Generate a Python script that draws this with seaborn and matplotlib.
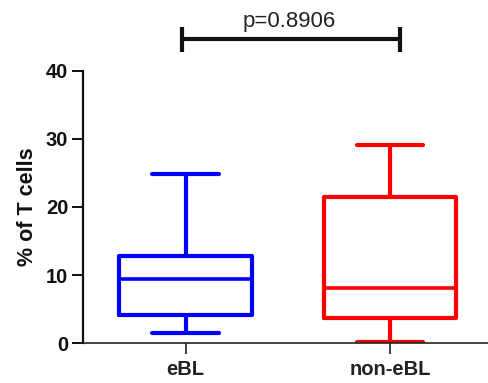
import matplotlib
matplotlib.use("Agg")
import matplotlib.pyplot as plt
import seaborn as sns
import pandas as pd

# Data (min, Q1, median, Q3, max)
groups = ["eBL", "non-eBL"]
ebl_values = [1.56, 4.15, 9.43, 12.85, 24.9]
non_ebl_values = [0.23, 3.67, 8.07, 21.5, 29.05]
colors = ["#0000FF", "#FF0000"]
y_ticks = [0, 10, 20, 30, 40]
p_text = "p=0.8906"
y_label = "% of T cells"

df = pd.DataFrame({
    "group": [groups[0]] * len(ebl_values) + [groups[1]] * len(non_ebl_values),
    "value": ebl_values + non_ebl_values,
})

sns.set_theme(style="ticks")
plt.rcParams["font.family"] = ["Liberation Sans", "DejaVu Sans"]

fig = plt.figure(figsize=(4.89, 3.83), dpi=100)
ax = fig.add_axes([83.5 / 489, 1 - 343.3 / 383, (489 - 83.5) / 489, (343.3 - 70.7) / 383])

sns.boxplot(
    data=df, x="group", y="value", hue="group", order=groups, hue_order=groups,
    palette=colors, fill=False, width=0.65, whis=(0, 100), showfliers=False,
    linewidth=3.0, legend=False, ax=ax,
    medianprops={"linewidth": 2.6},
)

ax.set_xlim(-0.5, 1.485)
ax.set_ylim(0, 40)
ax.set_yticks(y_ticks)
ax.set_xlabel("")
ax.set_ylabel(y_label, fontsize=15.5, fontweight="bold", color="#111111", labelpad=6)

for side in ["top", "right"]:
    ax.spines[side].set_visible(False)
ax.spines["left"].set_linewidth(1.6)
ax.spines["bottom"].set_linewidth(1.2)
ax.spines["left"].set_color("#111111")
ax.spines["bottom"].set_color("#222222")
ax.tick_params(axis="y", length=8, width=1.4, pad=3, labelsize=14.5, colors="#111111")
ax.tick_params(axis="x", length=8, width=1.2, pad=4, labelsize=14.5, colors="#222222")
for lab in ax.get_xticklabels() + ax.get_yticklabels():
    lab.set_fontweight("bold")

# significance bracket
bx0, bx1, by, btop, bbot = -0.02, 1.049, 44.6, 46.4, 42.7
ax.plot([bx0, bx1], [by, by], color="#111111", lw=3, clip_on=False, solid_capstyle="butt")
ax.plot([bx0, bx0], [bbot, btop], color="#111111", lw=3, clip_on=False, solid_capstyle="butt")
ax.plot([bx1, bx1], [bbot, btop], color="#111111", lw=3, clip_on=False, solid_capstyle="butt")
ax.text(0.508, 45.7, p_text, ha="center", va="bottom", fontsize=16, color="#222222")

fig.savefig("out.png", dpi=100)
